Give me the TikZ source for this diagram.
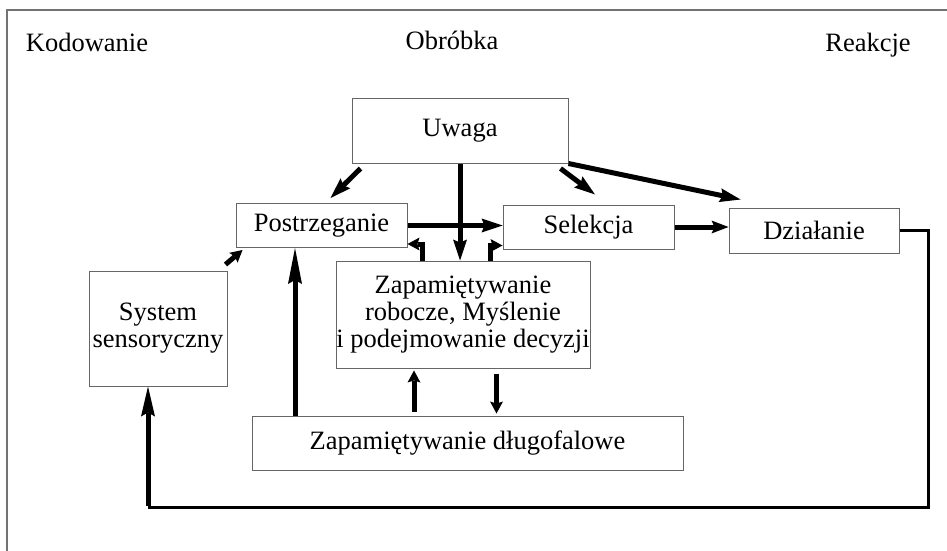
\documentclass[tikz,border=0pt]{standalone}
\usepackage{fontspec}
\setmainfont{Liberation Serif}
\usetikzlibrary{arrows.meta}
\tikzstyle{box} = [rectangle, inner sep=0pt, align=center, draw=black!60, line width=1pt, fill=white, font=\fontsize{26.5}{27}\selectfont]
\tikzstyle{title} = [anchor=base, font=\fontsize{26.5}{30}\selectfont]
\tikzstyle{arrow} = [line width=5pt, ->, >={Stealth[length=21pt, width=14pt, inset=3pt, line width=0pt]}]
\tikzstyle{short arrow} = [line width=5pt, ->, >={Stealth[length=12pt, width=13pt, inset=2pt, line width=0pt]}]
\tikzstyle{feedback} = [line width=3pt]

\begin{document}
\begin{tikzpicture}[x=1pt, y=-1pt, node distance=95pt]
    \useasboundingbox (0,0) rectangle (947,551);
    \draw [black!55, line width=1.3pt] (7,551) -- (7,10) -- (947,10);

    \node (kod) [title] at (87,51.7) {Kodowanie};
    \node (obr) [title] at (452,50) {Obróbka};
    \node (rea) [title] at (868,51.7) {Reakcje};

    \node (uwaga) [box, minimum width=216pt, minimum height=65pt] at (460,130.5) {Uwaga};
    \node (post)  [box, minimum width=171pt, minimum height=44pt, below of=uwaga, xshift=-138.5pt] {Postrzeganie};
    \node (sel)   [box, minimum width=171pt, minimum height=44pt, below of=uwaga, xshift=128.5pt, yshift=-1.5pt] {Selekcja};
    \node (dzi)   [box, minimum width=170pt, minimum height=45pt, right of=sel, xshift=130.5pt, yshift=-3.5pt] {Działanie};
    \node (zap)   [box, minimum width=254pt, minimum height=107pt, below of=post, xshift=141.5pt, yshift=6pt] {Zapamiętywanie\\robocze, Myślenie\\i podejmowanie decyzji};
    \node (sys)   [box, minimum width=138pt, minimum height=115pt, below of=post, xshift=-163.5pt, yshift=-8pt] {System\\sensoryczny};
    \node (dlug)  [box, minimum width=431pt, minimum height=54pt, below of=zap, xshift=4.5pt, yshift=-33.5pt] {Zapamiętywanie długofalowe};

    \draw [arrow] ([xshift=9pt,yshift=-5pt]uwaga.south west) -- ([xshift=9pt,yshift=5pt]post.north);
    \draw [arrow] (uwaga.south) -- (uwaga.south |- zap.north);
    \draw [arrow] ([xshift=-8pt,yshift=-5pt]uwaga.south east) -- ([xshift=6.5pt,yshift=10pt]sel.north);
    \draw [arrow] (uwaga.south east) -- ([xshift=12pt,yshift=8pt]dzi.north west);

    \draw [arrow] (post.east) -- (post.east -| sel.west);
    \draw [short arrow] ([xshift=-41pt]zap.north) |- ([yshift=4pt]post.south east);
    \draw [short arrow] ([xshift=27pt]zap.north) |- ([yshift=4pt]sel.south west);
    \draw [arrow, >={Stealth[length=17pt, width=13pt, inset=3pt, line width=0pt]}] (sel.east) -- (sel.east -| dzi.west);

    \draw [short arrow] ([xshift=-2pt,yshift=6pt]sys.north east) -- ([xshift=7pt,yshift=-2pt]post.south west);
    \draw [arrow, >={Stealth[length=36pt, width=14pt, inset=4pt, line width=0pt]}] ([xshift=-172.5pt]dlug.north) -- ([xshift=-26.5pt]post.south);
    \draw [short arrow, shorten <=4pt, shorten >=2pt] ([xshift=-53.5pt]dlug.north) -- ([xshift=-49pt]zap.south);
    \draw [short arrow, shorten <=5pt, shorten >=2pt] ([xshift=33.5pt]zap.south) -- ([xshift=29pt]dlug.north);

    \coordinate (fbr) at (928,507);
    \coordinate (fbl) at (148,507);
    \draw [feedback] (dzi.east) -| (fbr) -- (fbl);
    \draw [arrow, >={Stealth[length=30pt, width=14pt, inset=4pt, line width=0pt]}] ([yshift=1.5pt]fbl) -- (fbl |- sys.south);

  \end{tikzpicture}
\end{document}
